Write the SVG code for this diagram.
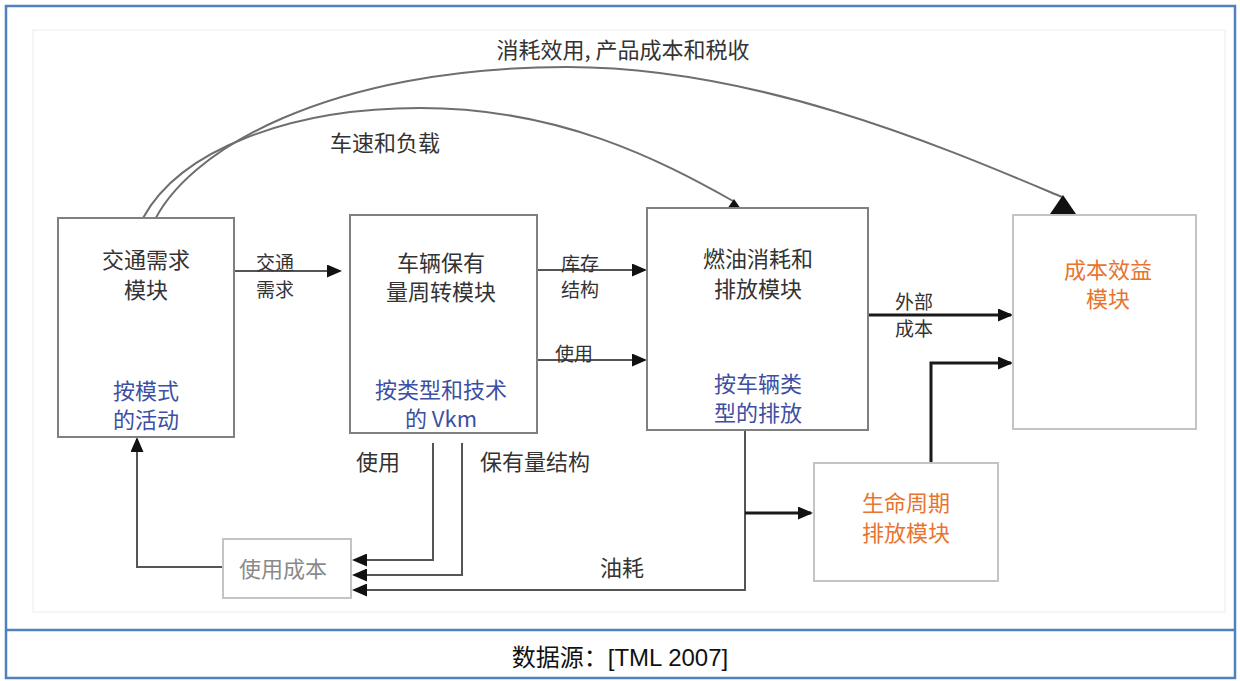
<svg xmlns="http://www.w3.org/2000/svg" width="1240" height="681" viewBox="0 0 1240 681">
<style>
.box{fill:#fff;stroke:#808080;stroke-width:2}
.boxl{fill:#fff;stroke:#c4c4c4;stroke-width:2}
.t{font-family:"Noto Sans CJK SC","Liberation Sans",sans-serif;font-size:22px;fill:#333;text-anchor:middle}
.s{font-family:"Noto Sans CJK SC","Liberation Sans",sans-serif;font-size:19px;fill:#333;text-anchor:middle}
.blue{fill:#3d4fa3}
.orange{fill:#e8742e}
.gray{fill:#8a8a8a}
.ln{fill:none;stroke:#555;stroke-width:2}
.lnb{fill:none;stroke:#1a1a1a;stroke-width:3}
.cv{fill:none;stroke:#6e6e6e;stroke-width:2}
</style>
<defs>
<marker id="arr" markerWidth="15" markerHeight="13" refX="13" refY="6.5" orient="auto" markerUnits="userSpaceOnUse">
<path d="M0,0 L15,6.5 L0,13 z" fill="#111"/>
</marker>
</defs>
<rect x="0" y="0" width="1240" height="681" fill="#fff"/>
<rect x="6" y="6" width="1229" height="672" fill="none" stroke="#4f81bd" stroke-width="2.5"/>
<line x1="6" y1="630" x2="1235" y2="630" stroke="#4f81bd" stroke-width="2.5"/>
<rect x="33" y="30" width="1192" height="582" fill="none" stroke="#f2f2f2" stroke-width="1.5"/>

<g id="connectors">
<path class="cv" d="M152,226 C185,150 330,67 567,67 C760,67 950,150 1062,197"/>
<path class="cv" d="M143,218 C180,150 290,108 420,108 C560,108 660,160 733,201"/>
<polygon points="1063,195 1050,214 1076,214" fill="#111"/>
<polygon points="734,199 727,209 741,209" fill="#111"/>
<path class="ln" d="M234,271 H340" marker-end="url(#arr)"/>
<path class="ln" d="M537,270 H645" marker-end="url(#arr)"/>
<path class="ln" d="M537,360 H645" marker-end="url(#arr)"/>
<path class="lnb" d="M864,315 H1011" marker-end="url(#arr)"/>
<path class="lnb" d="M931,463 V363 H1011" marker-end="url(#arr)"/>
<path class="ln" d="M745,430 V590 H354" marker-end="url(#arr)"/>
<path class="lnb" d="M745,513 H811" marker-end="url(#arr)"/>
<path class="ln" d="M433,443 V560 H354" marker-end="url(#arr)"/>
<path class="ln" d="M462,443 V575 H354" marker-end="url(#arr)"/>
<path class="ln" d="M223,567 H137 V439" marker-end="url(#arr)"/>
<text class="t" x="623" y="58">消耗效用, 产品成本和税收</text>
<text class="t" x="385" y="151">车速和负载</text>
<text class="s" x="275" y="270">交通</text>
<text class="s" x="275" y="297">需求</text>
<text class="s" x="580" y="271">库存</text>
<text class="s" x="580" y="297">结构</text>
<text class="s" x="574" y="361">使用</text>
<text class="s" x="914" y="309">外部</text>
<text class="s" x="914" y="336">成本</text>
<text class="t" x="378" y="470">使用</text>
<text class="t" x="535" y="470">保有量结构</text>
<text class="t" x="622" y="576">油耗</text>
</g>

<g id="node-demand">
<rect class="box" x="58" y="218" width="176" height="219"/>
<text class="t" x="146" y="268">交通需求</text>
<text class="t" x="146" y="298">模块</text>
<text class="t blue" x="146" y="399">按模式</text>
<text class="t blue" x="146" y="428">的活动</text>
</g>

<g id="node-stock">
<rect class="box" x="350" y="215" width="187" height="218"/>
<text class="t" x="441" y="271">车辆保有</text>
<text class="t" x="441" y="300">量周转模块</text>
<text class="t blue" x="441" y="398">按类型和技术</text>
<text class="t blue" x="441" y="427">的 Vkm</text>
</g>

<g id="node-fuel">
<rect class="box" x="647" y="208" width="221" height="222"/>
<text class="t" x="758" y="267">燃油消耗和</text>
<text class="t" x="758" y="297">排放模块</text>
<text class="t blue" x="758" y="392">按车辆类</text>
<text class="t blue" x="758" y="421">型的排放</text>
</g>

<g id="node-cba">
<rect class="boxl" x="1013" y="215" width="183" height="214"/>
<text class="t orange" x="1108" y="278">成本效益</text>
<text class="t orange" x="1108" y="307">模块</text>
</g>

<g id="node-lca">
<rect class="boxl" x="814" y="463" width="184" height="118"/>
<text class="t orange" x="906" y="511">生命周期</text>
<text class="t orange" x="906" y="541">排放模块</text>
</g>

<g id="node-usecost">
<rect class="boxl" x="223" y="539" width="128" height="59"/>
<text class="t gray" x="283" y="577">使用成本</text>
</g>

<text x="620" y="666" font-family="Liberation Sans,Noto Sans CJK SC,sans-serif" font-size="24" fill="#111" text-anchor="middle">数据源：[TML 2007]</text>
</svg>
